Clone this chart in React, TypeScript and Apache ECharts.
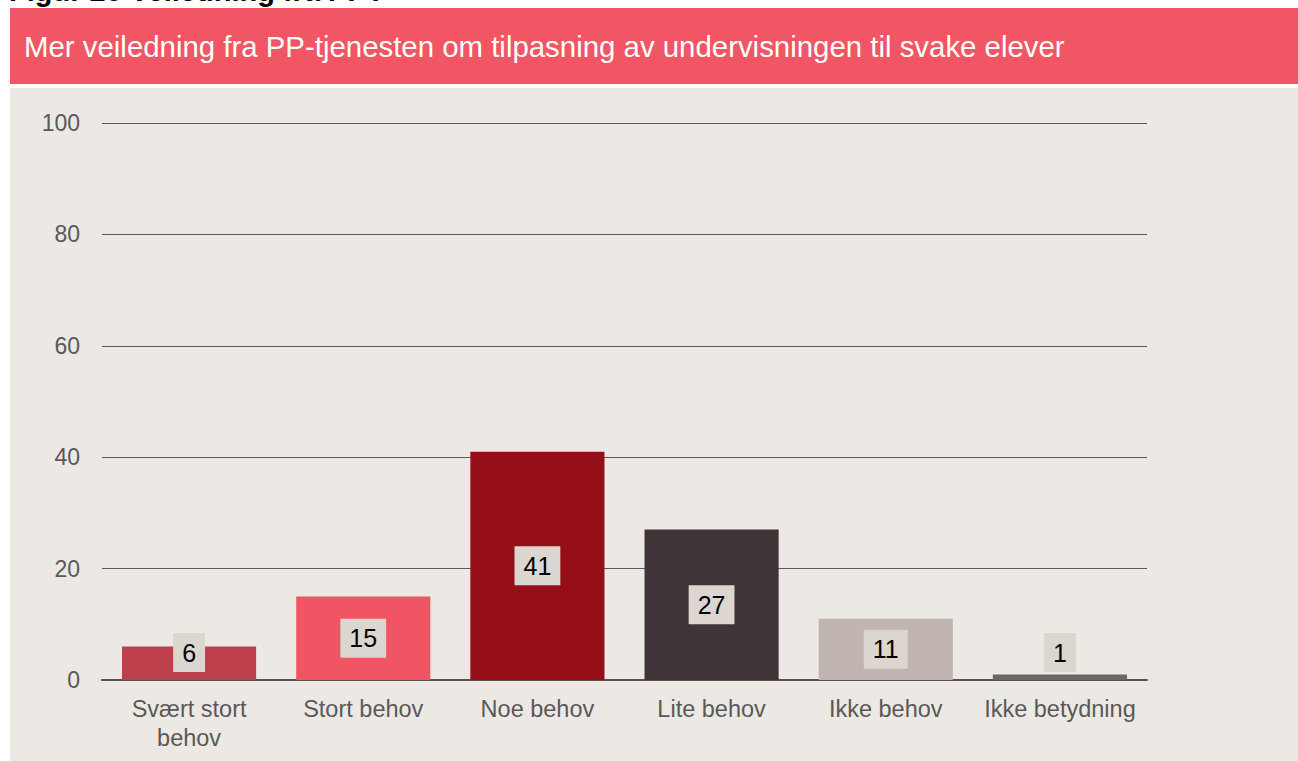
import React, { useEffect, useRef } from "react";
import * as echarts from "echarts";

const categories = ["Svært stort\nbehov", "Stort behov", "Noe behov", "Lite behov", "Ikke behov", "Ikke betydning"];
const values = [6, 15, 41, 27, 11, 1];
const barColors = ["#BE404D", "#F05563", "#960E18", "#3F3437", "#C0B5B0", "#6E6567"];
const yTicks = [0, 20, 40, 60, 80, 100];
const figureTitle = "Figur 25 Veiledning fra PPT";
const bannerTitle = "Mer veiledning fra PP-tjenesten om tilpasning av undervisningen til svake elever";

const FONT = "'Liberation Sans', Arial, sans-serif";

export default function App() {
  const ref = useRef<HTMLDivElement>(null);
  useEffect(() => {
    if (!ref.current) return;
    const chart = echarts.init(ref.current, null, { renderer: "svg" });
    const option = {
      animation: false,
      backgroundColor: "#FFFFFF",
      textStyle: { fontFamily: FONT },
      graphic: [
        { type: "rect", z: -10, shape: { x: 10, y: 8, width: 1288, height: 76 }, style: { fill: "#F05663" }, silent: true },
        { type: "rect", z: -10, shape: { x: 10, y: 88, width: 1288, height: 673 }, style: { fill: "#ECE8E3" }, silent: true },
        {
          type: "text", x: 24, y: 46, z: 10,
          style: { text: bannerTitle, fill: "#FFFFFF", font: `29.4px ${FONT}`, verticalAlign: "middle", align: "left" },
        },
        {
          type: "text", x: 9, y: 5, z: 10,
          style: { text: figureTitle, fill: "#000000", font: `bold 29px ${FONT}`, verticalAlign: "bottom", align: "left" },
        },
      ],
      grid: { left: 102, right: 151, top: 123, bottom: 81, containLabel: false },
      xAxis: {
        type: "category",
        data: categories,
        axisLine: { show: true, lineStyle: { color: "#595055", width: 2 } },
        axisTick: { show: false },
        axisLabel: { color: "#595959", fontSize: 23.5, fontFamily: FONT, margin: 14, lineHeight: 29, interval: 0 },
      },
      yAxis: {
        type: "value",
        min: yTicks[0],
        max: yTicks[yTicks.length - 1],
        interval: 20,
        axisLine: { show: false },
        axisTick: { show: false },
        splitLine: { lineStyle: { color: "#595959", width: 1 } },
        axisLabel: { color: "#595959", fontSize: 23, fontFamily: FONT, margin: 22 },
      },
      series: [
        {
          type: "bar",
          barWidth: "77%",
          data: values.map((v, i) => ({
            value: v,
            itemStyle: { color: barColors[i] },
            label: v < 10 ? { position: "insideBottom", distance: 8 } : { position: "inside" },
          })),
          label: {
            show: true,
            color: "#000000",
            fontSize: 25,
            fontFamily: FONT,
            backgroundColor: "#DCD6D0",
            padding: [7, 9, 7, 9],
            lineHeight: 25,
          },
        },
      ],
    };
    chart.setOption(option);
    return () => chart.dispose();
  }, []);
  return (
    <div
      ref={ref}
      style={{ position: "fixed", left: 0, top: 0, width: 1298, height: 761 }}
    />
  );
}
